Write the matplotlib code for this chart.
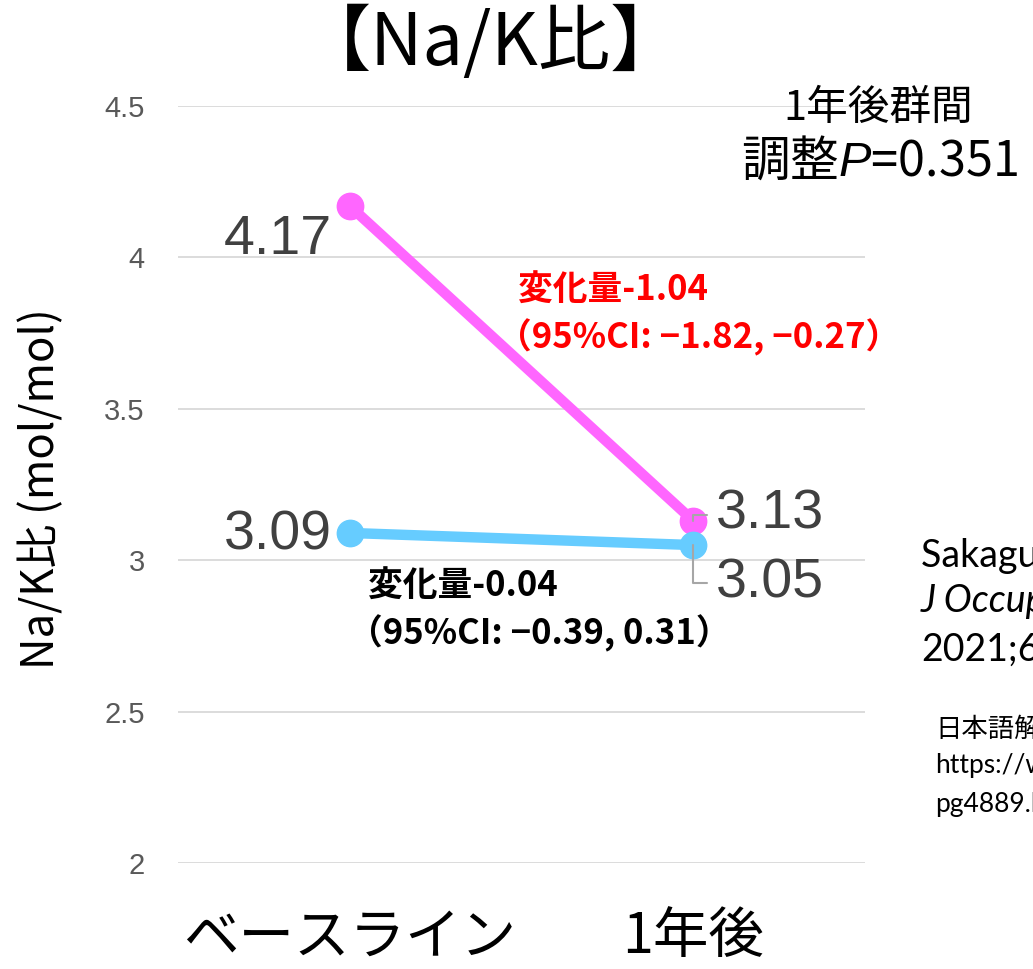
import numpy as np
import matplotlib
matplotlib.use('Agg')
import matplotlib.pyplot as plt

plt.rcParams['font.family'] = ['Noto Sans CJK JP', 'DejaVu Sans']
plt.rcParams['mathtext.fontset'] = 'custom'
plt.rcParams['mathtext.it'] = 'Liberation Sans:italic'
plt.rcParams['mathtext.rm'] = 'Liberation Sans'

# データ
groups = ['ベースライン', '1年後']
na_k_pink = [4.17, 3.13]
na_k_blue = [3.09, 3.05]
label_pink = ['4.17', '3.13']
label_blue = ['3.09', '3.05']
change_pink = ['変化量-1.04', '（95%CI: −1.82, −0.27）']
change_blue = ['変化量-0.04', '（95%CI: −0.39, 0.31）']
p_lines = ['1年後群間', '調整$P$=0.351']
yticks = [2, 2.5, 3, 3.5, 4, 4.5]
ytick_labels = ['2', '2.5', '3', '3.5', '4', '4.5']
ref_lines = ['Sakaguchi K, et al.', 'J Occup Health.', '2021;63:e12297']
ref_jp = ['日本語解説', 'https://www.jstage.jst.go.jp/', 'pg4889.html']

PINK = '#FF66FF'
BLUE = '#66CCFF'
LABEL_GRAY = '#404040'

fig = plt.figure(figsize=(10.33, 9.69), dpi=100)
ax = fig.add_axes([178 / 1033, 1 - 863 / 969, 687 / 1033, 757 / 969])

x = np.arange(len(groups))
ax.plot(x, na_k_pink, color=PINK, lw=7.5, marker='o', ms=19,
        solid_capstyle='round', zorder=3)
ax.plot(x, na_k_blue, color=BLUE, lw=7.5, marker='o', ms=19,
        solid_capstyle='round', zorder=4)

ax.set_xlim(-0.5, 1.5)
ax.set_ylim(2, 4.5)
ax.set_yticks(yticks)
ax.set_yticklabels(ytick_labels, fontsize=21, color='#595959',
                   family='Liberation Sans')
ax.set_xticks(x)
ax.set_xticklabels(groups, fontsize=40, color='black')
ax.tick_params(axis='y', length=0, pad=24)
ax.tick_params(axis='x', length=0, pad=33)
ax.yaxis.grid(True, color='#D9D9D9', lw=1.3)
ax.set_axisbelow(True)
for s in ax.spines.values():
    s.set_visible(False)

ax.set_ylabel('Na/K比 (mol/mol)', fontsize=31.5, va='center')
ax.yaxis.set_label_coords(-0.199, 0.494)

# 数値ラベル
num_kw = dict(textcoords='offset pixels', fontsize=40, color=LABEL_GRAY,
              family='Liberation Sans', va='center', zorder=6)
leader = dict(arrowstyle='-', color='#A6A6A6', lw=1.5, patchA=None,
              shrinkA=7, shrinkB=0, relpos=(0, 0.5),
              connectionstyle='angle,angleA=0,angleB=90,rad=0')
ax.annotate(label_pink[0], xy=(0, na_k_pink[0]), xytext=(-18, -34),
            ha='right', **num_kw)
ax.annotate(label_blue[0], xy=(0, na_k_blue[0]), xytext=(-18, -3),
            ha='right', **num_kw)
ax.annotate(label_pink[1], xy=(1, na_k_pink[1]), xytext=(23, 6),
            ha='left', arrowprops=leader, **num_kw)
ax.annotate(label_blue[1], xy=(1, na_k_blue[1]), xytext=(23, -38),
            ha='left', arrowprops=leader, **num_kw)

# 変化量の注記
ax.text(0.495, 0.757, change_pink[0], transform=ax.transAxes, fontsize=25,
        fontweight='bold', color='red', va='center', ha='left')
ax.text(0.465, 0.695, change_pink[1], transform=ax.transAxes, fontsize=25,
        fontweight='bold', color='red', va='center', ha='left')
ax.text(0.277, 0.366, change_blue[0], transform=ax.transAxes, fontsize=25,
        fontweight='bold', color='black', va='center', ha='left')
ax.text(0.247, 0.304, change_blue[1], transform=ax.transAxes, fontsize=25,
        fontweight='bold', color='black', va='center', ha='left')

# タイトルと群間比較
fig.text(491 / 1033, 1 - 44 / 969, '【Na/K比】', fontsize=52,
         ha='center', va='center')
fig.text(878 / 1033, 1 - 108 / 969, p_lines[0], fontsize=30,
         ha='center', va='center')
fig.text(879 / 1033, 1 - 162 / 969, p_lines[1], fontsize=35,
         ha='center', va='center')

# 文献
for i, (line, base) in enumerate(zip(ref_lines, [567, 612, 661])):
    fig.text(921 / 1033, 1 - base / 969, line, fontsize=27,
             family='Lato', style='italic' if i == 1 else 'normal',
             ha='left', va='baseline')
for i, (line, base) in enumerate(zip(ref_jp, [737, 773, 812])):
    fig.text(935 / 1033, 1 - base / 969, line, fontsize=19,
             family=['Lato', 'Noto Sans CJK JP'],
             ha='left', va='baseline')

fig.savefig('out.png', dpi=100)
